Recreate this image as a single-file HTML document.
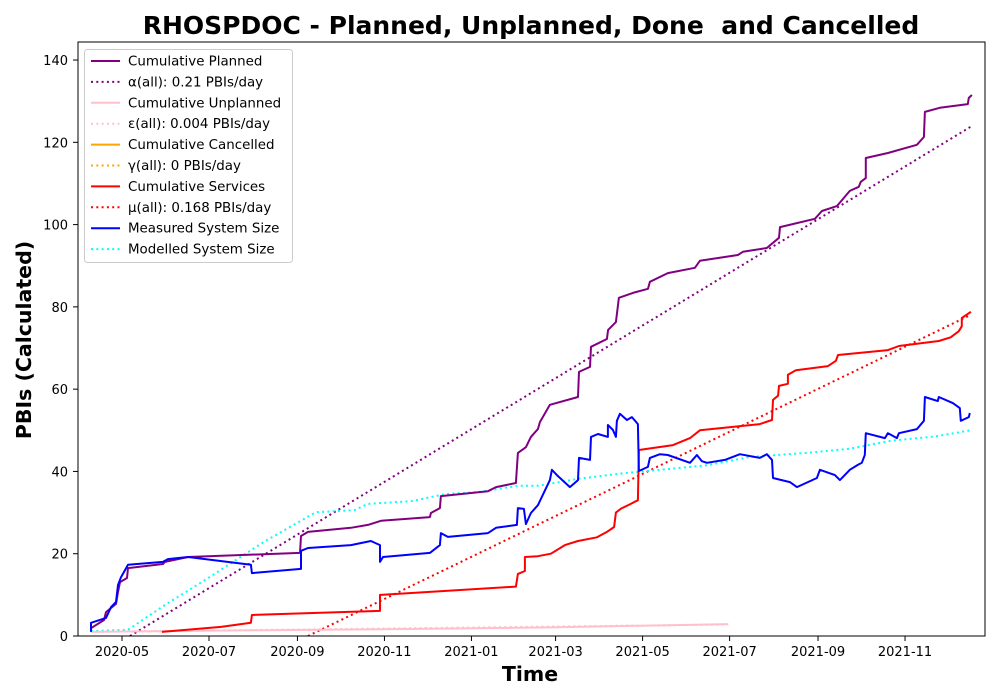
<!DOCTYPE html>
<html><head><meta charset="utf-8"><style>
body{margin:0;background:#fff;}
svg{display:block;font-family:"DejaVu Sans","Liberation Sans",sans-serif;}
text{white-space:pre;}
</style></head><body>
<svg id="chart" width="1000" height="700" viewBox="0 0 1000 700">
<rect x="0" y="0" width="1000" height="700" fill="#fff"/>
<text x="531" y="34" text-anchor="middle" font-size="25" font-weight="bold">RHOSPDOC - Planned, Unplanned, Done  and Cancelled</text>
<text x="530" y="681" text-anchor="middle" font-size="20.5" font-weight="bold">Time</text>
<text x="31" y="340" text-anchor="middle" font-size="20.5" font-weight="bold" transform="rotate(-90 31 340)">PBIs (Calculated)</text>
<defs><clipPath id="clip"><rect x="78" y="42" width="907" height="594"/></clipPath></defs>
<g id="marks" clip-path="url(#clip)"></g>
<g id="axes"></g>
<g id="legend"></g>
</svg>
<script>
// day offsets from 2020-05-01
const xTickDays = [0, 61, 123, 184, 245, 304, 365, 426, 488, 549];
const xTickLabels = ["2020-05","2020-07","2020-09","2020-11","2021-01","2021-03","2021-05","2021-07","2021-09","2021-11"];
const yTicks = [0, 20, 40, 60, 80, 100, 120, 140];

const plannedDays = [-21.7,-12.6,-11.2,-4.2,-2.8,-1.4,3.5,4.2,28.7,30.1,46.3,124.8,125.5,130.4,160.5,172.4,181.6,215.9,216.6,222.9,223.6,256.6,262.2,276.2,277.6,283.2,286.7,291.6,293,300,319.7,320.4,328.1,328.8,340,340.8,346.3,348.4,358.2,368.8,370.1,382.7,401.7,405.2,431.8,435.3,452.1,460.6,461.3,485.8,490.7,501.2,510.3,516.6,518,521.5,521.5,537,557.3,562.2,562.9,573.4,593,593.7,595.9];
const plannedValues = [1.9,3.9,5.8,7.8,10.7,13.1,14.1,16.5,17.5,18,19.2,20.2,24.3,25.3,26.3,27,28,28.9,29.9,31.1,34,35.2,36.2,37.2,44.5,45.9,48.4,50.3,52,56.2,58.1,64.2,65.4,70.3,72.2,74.4,76.3,82.2,83.4,84.4,86.1,88.2,89.5,91.2,92.6,93.4,94.3,96.8,99.4,101.4,103.3,104.5,108.2,109.2,110.4,111.3,116.2,117.4,119.4,121.3,127.4,128.4,129.3,130.8,131.5];

const measuredDays = [-21.7,-21.7,-11.2,-7.7,-4.2,-2.8,-0.7,4.2,28.7,32.2,46.3,90.4,91.1,125.5,125.5,130.4,160.5,174.5,180.9,180.9,183,215.9,222.9,223.6,228.5,256.6,262.2,276.9,277.6,281.8,283.2,286.7,291.6,300,301.4,304.9,314,319.7,320.4,328.1,328.8,333.7,340.7,340.7,344.2,346.3,347,349.1,354,357.5,361.7,362.4,368.7,370.1,377.1,382.7,398.2,403.1,406.6,410.1,422.7,433.2,447.2,452.1,455.7,456.4,468.3,473.2,487.2,489.3,499.8,503.3,506.8,510.3,515.9,518.7,520.8,521.5,534.9,537,543.3,544.7,557.3,562.2,562.9,572,572.7,582.5,587.4,588.1,593.7,594.4];
const measuredValues = [1,3.2,4.4,7,8.3,12.4,14.3,17.3,18,18.7,19.2,17.3,15.3,16.3,20.7,21.4,22.1,23.1,22.1,18,19.2,20.2,22.1,25,24.1,25,26.3,27,31.1,30.9,27.2,29.9,31.8,37.9,40.4,39.1,36.2,37.9,43.3,42.8,48.4,49.1,48.4,51.3,50.1,48.4,52.3,54,52.5,53.2,51.5,40.1,41.1,43.3,44.2,44,42.1,44,42.5,42.1,42.8,44.2,43.3,44.2,42.8,38.4,37.4,36.2,38.4,40.4,39.1,37.9,39.1,40.4,41.6,42.1,44,49.3,48.1,49.3,48.1,49.3,50.3,52.3,58.1,57.1,58.1,56.6,55.4,52.3,53.2,54.2];

const servicesDays = [28,69.4,90.4,91.1,180.9,180.9,276.2,277.6,282.5,282.5,291.6,300.7,310.5,319.7,333,340,345,346.3,350,356,361.7,362.4,386.3,398.2,405.2,447.2,455.7,456.4,460,460.6,466.9,466.9,472.5,495,500.5,502,537,544.7,572.7,581,586.7,588.8,588.8,595.2];
const servicesValues = [1,2.2,3.2,5.1,6.1,10,12,15.1,15.8,19.2,19.4,20,22.1,23.1,24,25.3,26.5,30,31,32,33,45.2,46.4,48.1,50,51.5,52.5,57.4,58.4,60.8,61.3,63.5,64.6,65.6,66.9,68.3,69.5,70.5,71.7,72.6,74.1,75.3,77.3,78.8];

const unplannedDays = [-21.7,0,100,200,300,425];
const unplannedValues = [1,1.1,1.4,1.7,2.1,2.9];

const modelledDays = [-21.7,4.2,30,60,100,136,163,172.4,203,226.6,249.8,277.6,291.6,320,350,380,410,440,480,510,540,570,595];
const modelledValues = [1.2,1.5,7.5,14,23,30.1,30.6,32.1,32.8,34.5,35,36.5,36.5,38.2,39.5,40.5,41.5,43.5,44.5,45.5,47.5,48.5,50];

// fit lines: rate (PBIs/day), zero-crossing day, start/end day
const alphaFit = [0.21, 5.6, 5.6, 595.9];
const muFit = [0.168, 130.4, 130.4, 595.2];
const epsFit = [0.004, -271.7, -21.7, 425];

const X = d => 122 + d * 1.4263;
const Y = v => 636 - v * 4.114;
const NS = "http://www.w3.org/2000/svg";
const marks = document.getElementById('marks');
const axes = document.getElementById('axes');
const legend = document.getElementById('legend');

function poly(parent, days, vals, color, dotted, name) {
  const p = document.createElementNS(NS, 'polyline');
  p.setAttribute('points', days.map((d, i) => X(d).toFixed(1) + ',' + Y(vals[i]).toFixed(1)).join(' '));
  p.setAttribute('fill', 'none');
  p.setAttribute('stroke', color);
  p.setAttribute('stroke-width', '2');
  p.setAttribute('stroke-linejoin', 'round');
  if (dotted) p.setAttribute('stroke-dasharray', '2,3.3');
  
  
  parent.appendChild(p);
}
function fit(f, color, name) {
  const d0 = f[2], d1 = f[3];
  poly(marks, [d0, d1], [f[0] * (d0 - f[1]), f[0] * (d1 - f[1])], color, true, name);
}

fit(alphaFit, 'purple', 'alpha-fit-line');
fit(epsFit, 'pink', 'epsilon-fit-line');
fit(muFit, 'red', 'mu-fit-line');
poly(marks, modelledDays, modelledValues, 'cyan', true, 'modelled-system-size-line');
poly(marks, unplannedDays, unplannedValues, 'pink', false, 'cumulative-unplanned-line');
poly(marks, plannedDays, plannedValues, 'purple', false, 'cumulative-planned-line');
poly(marks, servicesDays, servicesValues, 'red', false, 'cumulative-services-line');
poly(marks, measuredDays, measuredValues, 'blue', false, 'measured-system-size-line');

const frame = document.createElementNS(NS, 'rect');
frame.setAttribute('x', 78); frame.setAttribute('y', 42);
frame.setAttribute('width', 907); frame.setAttribute('height', 594);
frame.setAttribute('fill', 'none'); frame.setAttribute('stroke', '#000'); frame.setAttribute('stroke-width', '1');


axes.appendChild(frame);

xTickDays.forEach((d, i) => {
  const x = X(d);
  const t = document.createElementNS(NS, 'line');
  t.setAttribute('x1', x); t.setAttribute('x2', x); t.setAttribute('y1', 636); t.setAttribute('y2', 641);
  t.setAttribute('stroke', '#000');
  
  
  axes.appendChild(t);
  const l = document.createElementNS(NS, 'text');
  l.setAttribute('x', x); l.setAttribute('y', 656); l.setAttribute('text-anchor', 'middle'); l.setAttribute('font-size', '13');
  l.textContent = xTickLabels[i];
  
  
  axes.appendChild(l);
});
yTicks.forEach(v => {
  const y = Y(v);
  const t = document.createElementNS(NS, 'line');
  t.setAttribute('x1', 73); t.setAttribute('x2', 78); t.setAttribute('y1', y); t.setAttribute('y2', y);
  t.setAttribute('stroke', '#000');
  
  
  axes.appendChild(t);
  const l = document.createElementNS(NS, 'text');
  l.setAttribute('x', 68); l.setAttribute('y', y + 5); l.setAttribute('text-anchor', 'end'); l.setAttribute('font-size', '13');
  l.textContent = v;
  
  
  axes.appendChild(l);
});

const legendLabels = ["Cumulative Planned","α(all): 0.21 PBIs/day","Cumulative Unplanned","ε(all): 0.004 PBIs/day","Cumulative Cancelled","γ(all): 0 PBIs/day","Cumulative Services","μ(all): 0.168 PBIs/day","Measured System Size","Modelled System Size"];
const legendColors = ["purple","purple","pink","pink","orange","orange","red","red","blue","cyan"];
const legendDotted = [false,true,false,true,false,true,false,true,false,true];
const box = document.createElementNS(NS, 'rect');
box.setAttribute('x', 84.5); box.setAttribute('y', 49.5); box.setAttribute('width', 208); box.setAttribute('height', 213);
box.setAttribute('rx', 3); box.setAttribute('fill', '#fff'); box.setAttribute('fill-opacity', '0.8');
box.setAttribute('stroke', '#ccc');


legend.appendChild(box);
legendLabels.forEach((lab, i) => {
  const y = 61 + i * 20.9;
  const g = document.createElementNS(NS, 'g');
  
  
  const ln = document.createElementNS(NS, 'line');
  ln.setAttribute('x1', 91); ln.setAttribute('x2', 120); ln.setAttribute('y1', y); ln.setAttribute('y2', y);
  ln.setAttribute('stroke', legendColors[i]); ln.setAttribute('stroke-width', '2');
  if (legendDotted[i]) ln.setAttribute('stroke-dasharray', '2,3.3');
  
  
  g.appendChild(ln);
  const t = document.createElementNS(NS, 'text');
  t.setAttribute('x', 128); t.setAttribute('y', y + 4.5); t.setAttribute('font-size', '13.4');
  t.textContent = lab;
  
  
  g.appendChild(t);
  legend.appendChild(g);
});
</script>
</body></html>
